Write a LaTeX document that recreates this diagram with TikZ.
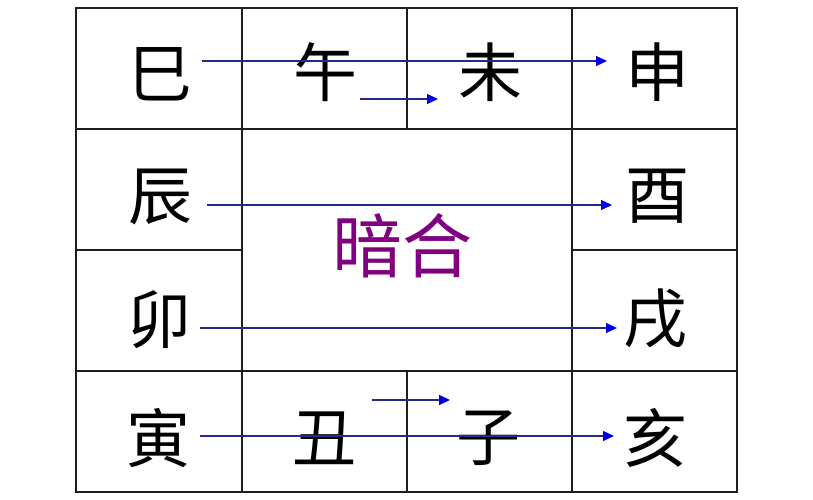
\documentclass[tikz,border=0pt]{standalone}
\usepackage{fontspec}
\usepackage{tikz}
\usepackage{xcolor}
\usetikzlibrary{arrows.meta,calc}
\newfontfamily\cjk{Noto Sans CJK SC}
\definecolor{gridcol}{RGB}{30,30,30}
\definecolor{linecol}{RGB}{40,40,140}
\definecolor{tipcol}{RGB}{0,0,225}
\definecolor{anhecol}{RGB}{128,0,128}

\begin{document}
\begin{tikzpicture}[x=1pt,y=-1pt,
	zhi/.style={inner sep=0pt,font=\cjk\fontsize{64}{64}\selectfont},
	arr/.style={draw=linecol,line width=1.1pt,-{Triangle[length=11pt,width=10pt,color=tipcol]}}]

\useasboundingbox (0,0) rectangle (813,500);
%
\draw[gridcol,line width=1.2pt] (76,8) rectangle (737,492);
\draw[gridcol,line width=1.2pt] (242,8) -- (242,492) (572,8) -- (572,492);
\draw[gridcol,line width=1.2pt] (76,129) -- (737,129) (76,371) -- (737,371);
\draw[gridcol,line width=1.2pt] (407,8) -- (407,129) (407,371) -- (407,492);
\draw[gridcol,line width=1.2pt] (76,250) -- (242,250) (572,250) -- (737,250);

\node[zhi] (si) at (160,74) {巳};
\node[zhi] (wu) at (325,72) {午};
\node[zhi] (wei) at (490,72) {未};
\node[zhi] (shen) at (657,72) {申};
\node[zhi] (chen) at (160,197) {辰};
\node[zhi] (you) at (657,196) {酉};
\node[zhi] (mao) at (159,320) {卯};
\node[zhi] (xu) at (655,319) {戌};
\node[zhi] (yin) at (158,438) {寅};
\node[zhi] (chou) at (324,438) {丑};
\node[zhi] (zi) at (488,438) {子};
\node[zhi] (hai) at (655,438) {亥};
\node[zhi,text=anhecol,font=\cjk\fontsize{70}{70}\selectfont] (anhe) at (402,246) {暗合};

%\draw[arr] (si) -- (shen);
\draw[arr] ($(si)+(42,-13)$) -- ($(shen)+(-50,-11)$);
\draw[arr] ($(wu)+(35,27)$) -- ($(wei)+(-52,27)$);
\draw[arr] ($(chen)+(47,8)$) -- ($(you)+(-45,9)$);
\draw[arr] ($(mao)+(41,8)$) -- ($(xu)+(-38,9)$);
\draw[arr] ($(yin)+(42,-2)$) -- ($(hai)+(-41,-2)$);
\draw[arr] ($(chou)+(48,-38)$) -- ($(zi)+(-38,-38)$);

\end{tikzpicture}
\end{document}
